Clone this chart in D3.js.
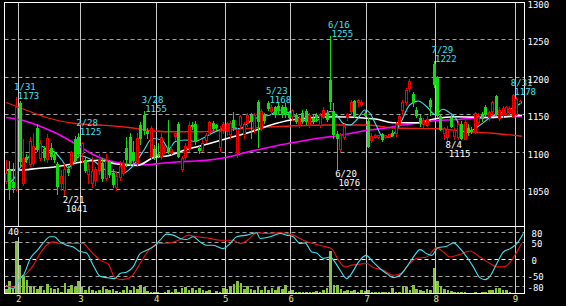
<!DOCTYPE html>
<html><head><meta charset="utf-8">
<script src="https://cdn.jsdelivr.net/npm/d3@7"></script>
<style>html,body{margin:0;padding:0;background:#000;}svg{display:block}</style>
</head><body>
<svg id="c" width="566" height="306"></svg>
<script>
// ---- data (index = trading day, 0 = 2011/1/26) ----
const ohlc = [
[1060,1090,1057,1071],[1076,1088,1036,1050],[1060,1085,1045,1052],[1051,1173,1048,1160],[1166,1168,1082,1087],
[1058,1118,1055,1092],[1094,1098,1085,1089],[1083,1120,1080,1114],[1086,1126,1082,1108],[1132,1137,1100,1103],
[1092,1116,1088,1112],[1104,1108,1088,1092],[1090,1124,1086,1118],[1105,1112,1090,1093],[1096,1100,1086,1089],
[1084,1087,1043,1054],[1058,1076,1048,1068],[1048,1084,1041,1076],[1078,1082,1068,1072],[1083,1102,1078,1099],
[1118,1122,1085,1088],[1120,1125,1092,1098],[1098,1113,1085,1111],[1090,1095,1072,1075],[1070,1085,1058,1076],
[1058,1094,1052,1074],[1062,1080,1055,1076],[1075,1098,1070,1090],[1085,1092,1060,1064],[1066,1098,1062,1088],
[1088,1090,1065,1070],[1072,1078,1052,1056],[1052,1075,1048,1067],[1066,1088,1062,1081],[1072,1090,1068,1085],
[1105,1120,1080,1090],[1120,1125,1082,1085],[1100,1115,1082,1088],[1085,1125,1082,1118],[1136,1140,1110,1117],
[1150,1155,1123,1128],[1128,1132,1118,1124],[1094,1135,1090,1131],[1104,1110,1090,1093],[1098,1112,1092,1095],
[1095,1125,1090,1120],[1104,1110,1098,1106],[1104,1143,1098,1100],[1100,1110,1096,1104],[1121,1126,1115,1125],
[1137,1140,1092,1094],[1077,1095,1073,1092],[1094,1112,1090,1108],[1104,1140,1100,1135],[1136,1140,1130,1133],
[1137,1142,1110,1114],[1105,1108,1098,1101],[1103,1118,1100,1112],[1115,1125,1112,1122],[1127,1142,1122,1140],
[1139,1141,1128,1131],[1136,1138,1128,1132],[1106,1135,1100,1127],[1128,1140,1124,1136],[1127,1140,1122,1138],
[1123,1142,1118,1138],[1143,1153,1128,1132],[1100,1132,1092,1130],[1135,1150,1130,1147],[1122,1140,1118,1136],
[1138,1152,1134,1149],[1149,1152,1118,1140],[1130,1152,1126,1149],[1167,1170,1105,1140],[1131,1158,1128,1154],
[1150,1152,1138,1142],[1166,1168,1155,1157],[1154,1163,1150,1159],[1160,1162,1145,1150],[1162,1165,1150,1155],
[1160,1163,1145,1149],[1160,1165,1145,1150],[1152,1155,1143,1146],[1147,1158,1142,1155],[1150,1152,1138,1140],
[1136,1148,1132,1145],[1152,1156,1138,1140],[1155,1158,1136,1140],[1136,1152,1132,1149],[1146,1150,1138,1142],
[1150,1152,1140,1145],[1136,1152,1132,1149],[1147,1160,1144,1156],[1152,1156,1140,1143],[1196,1255,1156,1167],
[1155,1165,1118,1123],[1124,1128,1076,1117],[1104,1125,1100,1122],[1120,1138,1116,1134],[1146,1152,1142,1150],
[1154,1170,1150,1166],[1168,1170,1145,1148],[1165,1171,1160,1168],[1164,1170,1160,1166],[1152,1155,1145,1148],
[1142,1145,1105,1107],[1116,1125,1112,1121],[1120,1124,1118,1122],[1120,1123,1118,1122],[1124,1126,1114,1116],
[1120,1123,1118,1122],[1121,1124,1119,1123],[1126,1130,1120,1122],[1124,1140,1120,1136],[1136,1150,1132,1147],
[1155,1170,1150,1166],[1166,1186,1162,1182],[1184,1197,1180,1194],[1178,1180,1160,1166],[1156,1160,1145,1148],
[1146,1150,1134,1138],[1136,1146,1132,1142],[1136,1148,1133,1144],[1170,1172,1148,1160],[1218,1222,1185,1190],
[1200,1202,1145,1148],[1148,1150,1128,1130],[1125,1134,1116,1132],[1120,1135,1115,1130],[1146,1150,1132,1134],
[1120,1133,1116,1128],[1120,1142,1116,1137],[1138,1142,1116,1118],[1118,1143,1116,1140],[1132,1138,1122,1125],
[1130,1134,1124,1127],[1127,1154,1124,1151],[1140,1152,1136,1146],[1150,1153,1140,1144],[1160,1163,1147,1149],
[1145,1155,1142,1152],[1154,1168,1150,1166],[1175,1176,1148,1150],[1145,1160,1142,1156],[1150,1162,1146,1158],
[1152,1162,1148,1160],[1152,1162,1150,1158],[1148,1178,1146,1176],[1150,1174,1148,1170],[1166,1170,1164,1167]
];
const volumes = [
2.7,8.4,3,35,19,12,9,5,4.4,3, 5,2.5,6.5,3.5,3,3.8,1,7,2.7,5.6,
4.4,8,4,2.5,4,2.5,1.5,2,4,3, 2,3,1.5,0.8,2.5,5,2,4,3,5.5,
4.4,1.5,1,0.8,0.8,0.5,1.3,2.5,1,3, 1.2,3.5,4,2.5,3.8,2.5,3.5,2.2,1.5,2.5,
0.5,1.5,1,3.5,3,4,6,8,7,3, 5,3,2.5,4,2,4.5,2.5,3.5,2,4,
3,5.5,1.5,2.2,1,1,1.2,1,1,1.2, 1.5,0.8,2,3.8,28,5.6,5.6,2.7,1.5,2.5,
1.5,2.2,1,2.5,1.5,2,1,1,1.2,0.8, 1,0.8,3.8,0.8,1,4.9,4,2,5.6,3,
2.5,1.5,3,2,17,8.4,4.4,3,2,1.5, 1,1,0.8,1,0.5,0.5,0.8,0.5,0.8,1,
2,2.5,3.8,3.8,2.5,2,1.2,0.6,0.6,0.6
];
const monthStarts = [4,22,44,64,83,105,125,148];
const monthLabels = ["2","3","4","5","6","7","8","9"];
const priceTicks = [1050,1100,1150,1200,1250,1300];
const oscTicks = [80,50,0,-50,-80];
const volumeMaxLabel = "40";

const maCyan = [[0,1067],[1,1060],[2,1063],[4,1079],[6,1090],[8,1102],[10,1108],[12,1103],[14,1100],[16,1090],[18,1079],[19.5,1086],[21.4,1095],[23.7,1092],[26.3,1085],[28,1078],[31,1074],[34,1072],[36,1078],[38,1089],[40,1103],[42.3,1118],[45.2,1116],[47.1,1104],[49,1114],[52,1116],[54.8,1114],[56.8,1118],[59.7,1125],[62.6,1131],[64.3,1134],[67.6,1131],[70.5,1140],[73.4,1147],[76.3,1149],[79.2,1156],[81.1,1154],[83,1149],[85.7,1144],[88,1140],[91,1144],[93.9,1154],[95.8,1149],[97.7,1138],[99.6,1136],[101.6,1143],[104,1156],[105.4,1152],[107.2,1136],[109.2,1120],[111.2,1120],[114,1136],[117,1163],[119.4,1168],[122,1160],[124.3,1150],[126.6,1157],[128.6,1152],[130.6,1143],[132,1127],[133.9,1127],[136.8,1134],[140.6,1147],[144.5,1154],[147.4,1160],[149.5,1166]];
const maWhite = [[0,1076],[4,1076],[9,1078],[14,1080],[19,1084],[21,1086],[27,1089],[32,1084],[38,1082],[43,1093],[47,1095],[52,1103],[57,1109],[64,1118],[71,1127],[76,1135],[83,1143],[95,1147],[107,1144],[112,1139],[119,1139],[124,1144],[130,1147],[140,1146],[149.5,1149]];
const maMagenta = [[0,1146],[5,1142],[10,1134],[15,1124],[20,1111],[25,1097],[30,1088],[35,1084],[40,1083],[45,1085],[50,1087],[55,1088],[60,1090],[65,1094],[70,1100],[75,1105],[80,1110],[85,1114],[90,1118],[95,1121],[100,1125],[105,1129],[110,1132],[115,1136],[120,1139],[125,1142],[130,1143],[135,1145],[140,1146],[145,1147],[149.5,1147]];
const maRed = [[0,1166],[8,1152],[11,1147],[20,1138],[27,1136],[35,1133],[41,1129],[47,1127],[56,1127],[68,1131],[79,1134],[93,1136],[105,1136],[112,1132],[125,1131],[134,1127],[141,1125],[149.5,1121]];

const oscCyan = [[0,-76],[2,-86],[3.5,-61],[5,-46],[7,4],[9,28],[11,53],[12.7,68],[14,68],[15.6,53],[17.5,43],[19.5,38],[21,26],[23.3,20],[25.2,-16],[27.2,-49],[29.1,-53],[31.5,-56],[33,-41],[35,-36],[36.8,-21],[38.8,18],[40.7,28],[42.6,38],[44.6,58],[46.5,76],[48.4,73],[50.4,63],[52.3,60],[54.2,68],[56.2,53],[58.1,43],[60,43],[62.9,33],[64.9,48],[66.8,68],[69.7,73],[72.6,80],[73.6,63],[76.5,68],[79.4,78],[81.3,73],[83.2,68],[85.2,48],[86.6,50],[88.6,23],[90,20],[91.9,4],[93.9,8],[95.3,-7],[96.8,-31],[98.7,-56],[100.1,-41],[102.1,-7],[104.3,13],[106.4,-7],[108.3,-26],[110.3,-41],[112.2,-53],[114.1,-46],[116.1,-21],[118,8],[120,30],[121.9,18],[123.3,13],[125.2,36],[127.7,40],[129.6,50],[131.6,33],[133.5,8],[135.4,-21],[137.3,-53],[138.8,-59],[140.2,-49],[142.2,-11],[144.1,23],[146.1,33],[148,48],[149.9,78]];
const oscRed = [[0,-79],[2,-81],[4,-56],[5.9,-41],[7.9,-16],[9.8,18],[11.7,43],[13.7,53],[15.6,48],[22.3,48],[24.3,28],[27.2,-1],[29.6,-13],[31.5,-53],[33.9,-59],[36.4,-49],[38.8,-11],[41.7,33],[44.6,48],[47.5,50],[50.4,60],[52.8,73],[55.2,68],[58.1,65],[62,58],[65.8,58],[67.8,48],[70.2,60],[72.6,80],[75.5,78],[79.4,80],[83.2,73],[86.1,58],[89,48],[91.9,40],[94.3,33],[96.3,-1],[98.2,-21],[100.1,-16],[102.5,-13],[104.5,-11],[106.4,-23],[109.3,-31],[112.2,-46],[114.6,-39],[117,-11],[119,4],[121.9,8],[124.8,36],[126.7,23],[128.6,8],[131.5,16],[134.4,26],[137.3,8],[140.2,-11],[142.2,-21],[144.1,-21],[146.1,-7],[148,23],[149.4,48]];

const highLabels = [
  {i:3,date:"1/31",value:1173},{i:21,date:"2/28",value:1125},{i:40,date:"3/28",value:1155},
  {i:76,date:"5/23",value:1168},{i:94,date:"6/16",value:1255},{i:124,date:"7/29",value:1222},
  {i:147,date:"8/31",value:1178}];
const lowLabels = [
  {i:17,date:"2/21",value:1041},{i:96,date:"6/20",value:1076},{i:128,date:"8/4",value:1115}];

// ---- drawing ----
const FONT = "DejaVu Sans Mono";
const C = {up:"#f00000", down:"#10dd10", cyan:"#3ee4f0", white:"#ffffff", mag:"#ff00ff",
  red:"#f02010", vol:"#86c440", grid:"#a0a0a0", vgrid:"#c8c8c8", month:"#f0e68c", oscRed:"#ee1111"};
const L=4.5, R=524.5, T=2.5, B=293.5, SEP=226.5;
const svg = d3.select("#c");
svg.append("rect").attr("width",566).attr("height",306).attr("fill","#000");

const x = d3.scaleLinear().domain([0,149]).range([6.2,520.25]);
const yP = d3.scaleLinear().domain([1000,1300]).range([227,2]);
const yO = d3.scaleLinear().domain([-100,100]).range([293.5,226]);
const yV = d3.scaleLinear().domain([0,40]).range([293.5,233]);
const px = v => Math.round(v - 0.5) + 0.5;

const defs = svg.append("defs");
defs.append("clipPath").attr("id","cm").append("rect").attr("x",L).attr("y",T).attr("width",R-L).attr("height",SEP-T);
defs.append("clipPath").attr("id","cl").append("rect").attr("x",L).attr("y",SEP).attr("width",R-L).attr("height",B-SEP);

// horizontal price grid
svg.append("g").selectAll("line").data(priceTicks.filter(t=>t<1300)).join("line")
  .attr("x1",L).attr("x2",R).attr("y1",d=>px(yP(d))).attr("y2",d=>px(yP(d)))
  .attr("stroke",C.grid).attr("stroke-dasharray","4,3");
// lower grid
svg.append("g").selectAll("line").data(oscTicks).join("line")
  .attr("x1",L).attr("x2",R).attr("y1",d=>px(yO(d))).attr("y2",d=>px(yO(d)))
  .attr("stroke",d=>d===0?"#ffffff":C.grid).attr("stroke-dasharray","4,3");
// month grid
svg.append("g").selectAll("line").data(monthStarts).join("line")
  .attr("x1",d=>px(x(d-0.5))).attr("x2",d=>px(x(d-0.5))).attr("y1",T).attr("y2",B)
  .attr("stroke",C.vgrid);

// volume
svg.append("g").attr("clip-path","url(#cl)").attr("shape-rendering","crispEdges")
  .selectAll("rect").data(volumes).join("rect")
  .attr("x",(d,i)=>x(i)-1.3).attr("width",2.6)
  .attr("y",d=>yV(d)).attr("height",d=>yV(0)-yV(d)).attr("fill",C.vol);

// oscillator lines
const lineO = d3.line().x(d=>x(d[0])).y(d=>yO(d[1])).curve(d3.curveMonotoneX);
const gO = svg.append("g").attr("clip-path","url(#cl)");
gO.append("path").attr("d",lineO(oscRed)).attr("fill","none").attr("stroke",C.oscRed).attr("stroke-width",1.1);
gO.append("path").attr("d",lineO(oscCyan)).attr("fill","none").attr("stroke",C.cyan).attr("stroke-width",1.1);

// moving averages
const gM = svg.append("g").attr("clip-path","url(#cm)");
const lineP = d3.line().x(d=>x(d[0])).y(d=>yP(d[1])).curve(d3.curveMonotoneX);
gM.append("path").attr("d",lineP(maRed)).attr("fill","none").attr("stroke",C.red).attr("stroke-width",1.3);
gM.append("path").attr("d",lineP(maMagenta)).attr("fill","none").attr("stroke",C.mag).attr("stroke-width",1.6);
gM.append("path").attr("d",lineP(maWhite)).attr("fill","none").attr("stroke",C.white).attr("stroke-width",1.6);
gM.append("path").attr("d",lineP(maCyan)).attr("fill","none").attr("stroke",C.cyan).attr("stroke-width",1.1);

// candles
const gC = gM.append("g").attr("shape-rendering","crispEdges");
ohlc.forEach((d,i)=>{
  const [o,h,l,c] = d;
  const cx = px(x(i));
  const up = c >= o;
  const col = up ? C.up : C.down;
  const top = yP(Math.max(o,c)), bot = yP(Math.min(o,c));
  gC.append("line").attr("x1",cx).attr("x2",cx).attr("y1",yP(h)).attr("y2",top).attr("stroke",col);
  gC.append("line").attr("x1",cx).attr("x2",cx).attr("y1",bot).attr("y2",yP(l)).attr("stroke",col);
  if (Math.abs(bot-top) < 1) {
    gC.append("line").attr("x1",cx-1.5).attr("x2",cx+1.5).attr("y1",px(top)).attr("y2",px(top)).attr("stroke",col);
  } else if (up) {
    gC.append("rect").attr("x",cx-1).attr("width",2).attr("y",px(top)).attr("height",Math.max(1,Math.round(bot-top)))
      .attr("fill","#000").attr("stroke",col);
  } else {
    gC.append("rect").attr("x",cx-1.5).attr("width",3).attr("y",top).attr("height",bot-top).attr("fill",col);
  }
});

// frame
svg.append("rect").attr("x",L).attr("y",T).attr("width",R-L).attr("height",B-T)
  .attr("fill","none").attr("stroke","#fff");
svg.append("line").attr("x1",L).attr("x2",R).attr("y1",SEP).attr("y2",SEP).attr("stroke","#fff");

// high / low annotations
const gA = svg.append("g").attr("font-family",FONT).attr("font-size",9);
highLabels.forEach(d=>{
  const cx = x(d.i), y = yP(d.value) + 1.7;
  gA.append("text").attr("x",cx-2.5).attr("y",y-9).attr("fill",C.cyan).text(d.date);
  gA.append("text").attr("x",cx+1).attr("y",y).attr("fill",C.cyan).text(d.value);
});
lowLabels.forEach(d=>{
  const cx = x(d.i), y = yP(d.value);
  gA.append("text").attr("x",cx-2.2).attr("y",y+7).attr("fill","#fff").text(d.date);
  gA.append("text").attr("x",cx+1).attr("y",y+16).attr("fill","#fff").text(d.value);
});

// price axis
const gPA = svg.append("g").attr("transform",`translate(${R},0)`)
  .call(d3.axisRight(yP).tickValues(priceTicks).tickSize(0).tickPadding(3).tickFormat(d3.format("d")));
gPA.attr("font-family",FONT).attr("font-size",9);
gPA.select(".domain").remove();
gPA.selectAll("text").attr("fill","#fff").attr("dy","0.6em");

// oscillator axis
const gOA = svg.append("g").attr("transform",`translate(${R},0)`)
  .call(d3.axisRight(yO).tickValues(oscTicks).tickSize(0).tickFormat(d=>String(d)));
gOA.attr("font-family",FONT).attr("font-size",9);
gOA.select(".domain").remove();
gOA.selectAll("text").attr("fill","#fff").attr("dy","0.36em").attr("x",d=>d<0?3:7);

// month axis
const gXA = svg.append("g").attr("transform",`translate(0,${B})`)
  .call(d3.axisBottom(x).tickValues(monthStarts.map(s=>s-0.5)).tickSize(0).tickPadding(2)
    .tickFormat((d,i)=>monthLabels[i]));
gXA.attr("font-family",FONT).attr("font-size",9);
gXA.select(".domain").remove();
gXA.selectAll("text").attr("fill",C.month);

// volume scale label
const vt = svg.append("text").attr("x",8).attr("y",235).attr("font-family",FONT).attr("font-size",9)
  .attr("fill","#fff").text(volumeMaxLabel);
const bb = vt.node().getBBox();
svg.insert("rect", () => vt.node()).attr("x",L+0.5).attr("y",bb.y).attr("width",bb.x+bb.width+1-L).attr("height",bb.height).attr("fill","#000");
</script>
</body></html>
